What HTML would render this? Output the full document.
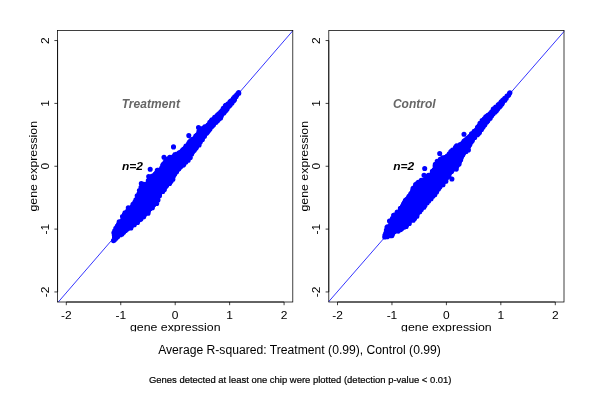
<!DOCTYPE html><html><head><meta charset="utf-8"><title>plot</title><style>html,body{margin:0;padding:0;background:#fff}</style></head><body><svg width="600" height="400" viewBox="0 0 600 400" style="display:block;will-change:transform;font-family:'Liberation Sans',sans-serif">
<rect width="600" height="400" fill="#fff"/>
<clipPath id="c1"><rect x="57.10" y="30.00" width="236.20" height="272.50"/></clipPath>
<polygon points="113.0,241.5 111.0,232.0 113.5,228.0 115.5,224.0 116.5,221.5 119.5,219.0 121.5,215.0 124.0,211.5 125.5,208.0 129.0,205.5 131.5,202.0 136.7,193.7 138.2,189.5 141.2,183.5 146.5,180.5 149.5,176.0 153.0,171.5 158.5,167.7 162.2,161.0 170.5,155.0 179.5,149.0 185.5,143.0 194.0,134.2 198.5,128.5 205.2,123.7 215.0,113.5 220.0,109.0 223.5,104.0 227.0,101.5 230.0,98.0 235.0,93.0 238.0,91.5 239.3,91.2 240.2,93.2 239.6,95.5 236.5,101.5 231.5,107.5 227.5,112.5 224.5,116.5 222.0,120.0 213.5,129.0 206.0,138.5 199.0,149.0 190.0,160.5 180.0,172.0 176.5,176.7 171.0,185.0 165.0,192.0 160.0,198.5 158.5,205.0 154.5,208.5 145.5,218.5 140.0,223.0 134.5,228.0 128.0,232.3 122.5,237.0 116.0,240.5" fill="#00f" stroke="#fff" stroke-width="1.6" stroke-linejoin="round"/>
<line x1="58.30" y1="302.00" x2="293.00" y2="30.50" stroke="#00f" stroke-width="0.8" clip-path="url(#c1)"/>
<path d="M185.6 150.8h0M193.5 147.2h0M151.6 179.2h0M185.9 159.8h0M160.8 191.7h0M158.7 176.3h0M171.2 163.9h0M218.1 115.5h0M132.6 207.2h0M144.5 195.3h0M134.1 209.8h0M129.9 215.4h0M156.3 173.7h0M127.9 228.0h0M175.8 171.1h0M169.4 171.4h0M182.6 157.4h0M120.4 232.2h0M172.3 166.8h0M124.6 216.8h0M206.2 129.1h0M198.3 134.9h0M177.7 161.0h0M149.5 202.3h0M183.0 150.5h0M164.5 170.0h0M170.1 174.1h0M139.6 205.5h0M144.9 198.9h0M166.5 165.4h0M136.5 204.4h0M130.8 224.1h0M144.6 208.1h0M162.1 173.9h0M212.5 124.6h0M218.1 118.7h0M165.3 178.8h0M132.8 209.2h0M193.2 145.3h0M192.4 150.5h0M216.1 117.4h0M154.3 203.9h0M202.9 131.2h0M182.5 156.7h0M145.3 187.7h0M121.1 228.1h0M147.5 198.8h0M155.8 197.1h0M216.9 116.8h0M192.1 144.6h0M131.1 217.9h0M151.4 185.6h0M191.3 152.7h0M131.8 208.7h0M140.0 202.6h0M139.3 211.7h0M171.6 175.7h0M156.6 187.2h0M196.2 145.7h0M129.1 216.1h0M141.2 207.9h0M174.5 166.1h0M171.5 175.8h0M177.0 164.0h0M165.6 174.5h0M195.7 146.6h0M122.4 221.9h0M151.2 200.8h0M132.4 220.6h0M158.5 177.6h0M129.7 211.0h0M157.9 188.1h0M153.9 182.3h0M165.6 179.4h0M136.9 204.0h0M143.9 204.1h0M210.8 126.2h0M157.9 176.0h0M163.0 168.9h0M188.3 150.9h0M198.5 136.1h0M123.5 230.8h0M129.7 222.1h0M134.3 207.0h0M135.0 216.2h0M159.0 180.6h0M168.6 168.7h0M152.5 198.1h0M143.4 214.0h0M174.8 166.5h0M192.7 146.0h0M166.9 167.1h0M178.2 156.4h0M150.5 188.5h0M170.5 173.6h0M160.5 179.2h0M149.2 207.3h0M156.5 192.7h0M184.9 154.0h0M189.5 148.2h0M161.5 174.7h0M175.5 157.9h0M177.9 168.9h0M157.2 180.6h0M162.8 175.6h0M177.1 167.1h0M150.6 195.0h0M145.4 188.4h0M185.2 153.0h0M123.8 227.0h0M126.9 215.3h0M196.8 142.5h0M202.3 130.4h0M145.9 207.2h0M160.7 190.0h0M133.9 219.1h0M152.5 190.8h0M196.7 144.0h0M125.9 228.4h0M203.6 129.5h0M166.3 168.1h0M177.6 158.1h0M132.8 209.1h0M158.6 174.0h0M174.9 166.3h0M147.6 190.6h0M177.5 154.5h0M159.1 178.5h0M164.8 170.9h0M184.0 150.8h0M125.5 220.8h0M148.5 194.5h0M134.6 214.2h0M171.4 177.9h0M150.3 205.9h0M193.1 143.9h0M182.2 152.2h0M153.2 203.8h0M198.7 142.0h0M206.7 130.0h0M193.2 142.9h0M131.2 220.9h0M141.3 210.3h0M163.7 174.9h0M200.7 140.0h0M198.5 139.6h0M178.4 162.8h0M133.3 214.7h0M203.8 132.5h0M203.1 135.6h0M160.8 178.2h0M159.1 191.2h0M178.9 165.8h0M170.8 160.7h0M167.8 165.0h0M165.0 179.0h0M171.0 164.7h0M214.5 121.3h0M146.3 210.9h0M148.7 198.0h0M219.7 114.0h0M160.1 187.5h0M143.0 202.8h0M134.1 209.6h0M224.6 108.8h0M175.1 171.8h0M140.6 203.9h0M142.6 201.5h0M173.0 165.9h0M187.3 156.6h0M154.9 180.6h0M218.3 115.6h0M157.7 190.6h0M192.6 147.7h0M181.3 154.4h0M135.0 222.2h0M163.2 177.4h0M192.3 142.3h0M153.8 176.6h0M139.1 210.5h0M138.0 217.4h0M186.6 151.3h0M136.1 201.8h0M177.7 157.1h0M170.0 179.2h0M135.2 212.5h0M178.2 159.7h0M163.6 183.0h0M151.5 185.4h0M158.4 172.0h0M146.3 206.8h0M143.1 210.8h0M209.8 124.9h0M129.7 212.0h0M135.7 203.8h0M155.3 191.7h0M131.9 215.7h0M117.7 228.7h0M165.3 170.8h0M120.8 226.1h0M136.4 206.4h0M204.8 132.1h0M145.3 198.1h0M145.0 210.2h0M151.8 199.6h0M218.6 116.6h0M133.4 206.2h0M144.5 202.5h0M164.0 186.8h0M181.8 159.7h0M151.0 186.2h0M178.0 163.9h0M127.1 228.6h0M139.7 203.1h0M153.5 201.3h0M165.8 181.7h0M165.3 168.3h0M130.7 221.1h0M156.8 185.9h0M182.0 151.7h0M173.0 165.7h0M161.0 182.8h0M122.6 230.2h0M185.4 159.1h0M152.1 205.1h0M131.5 220.1h0M186.8 155.4h0M204.8 129.8h0M166.1 177.1h0M193.3 147.8h0M143.2 213.7h0M171.0 161.7h0M123.7 228.5h0M182.6 152.1h0M171.8 165.3h0M157.6 182.1h0M134.2 216.3h0M158.1 190.7h0M164.3 172.9h0M208.8 127.6h0M209.9 124.6h0M169.5 166.8h0M156.0 195.7h0M131.1 222.3h0M160.2 192.1h0M141.2 209.1h0M126.4 226.9h0M154.0 193.3h0M136.9 219.8h0M153.0 188.1h0M145.8 207.9h0M144.6 204.3h0M177.0 165.4h0M141.1 209.9h0M205.1 131.4h0M122.8 230.2h0M222.4 112.8h0M147.3 203.2h0M176.9 166.5h0M159.7 178.2h0M180.5 157.3h0M120.4 233.7h0M177.2 157.4h0M170.6 177.6h0M153.0 181.0h0M119.8 231.9h0M178.1 155.1h0M150.0 198.8h0M204.2 133.0h0M146.5 187.8h0M144.2 213.6h0M127.1 218.7h0M152.7 182.4h0M170.4 174.2h0M140.3 197.1h0M153.1 179.4h0M132.1 217.6h0M162.3 173.5h0M151.5 193.9h0M128.5 220.4h0M142.3 209.7h0M169.1 176.4h0M196.3 137.4h0M168.6 161.6h0M138.6 204.3h0M136.4 211.5h0M186.4 158.4h0M141.0 197.1h0M149.6 199.9h0M137.9 209.0h0M210.6 124.0h0M144.5 191.2h0M185.7 158.3h0M128.3 224.3h0M126.2 218.8h0M152.0 194.1h0M116.6 231.5h0M174.7 165.0h0M177.1 168.2h0M150.0 200.8h0M166.8 175.5h0M187.5 146.4h0M141.2 211.2h0M187.0 154.5h0M164.0 184.9h0M193.5 142.7h0M150.5 184.1h0M146.6 208.8h0M128.5 224.3h0M170.5 170.4h0M154.4 193.6h0M138.3 214.9h0M195.4 144.8h0M177.4 162.8h0M196.1 139.2h0M160.8 174.1h0M182.3 151.9h0M123.6 222.7h0M130.9 216.2h0M164.0 175.0h0M122.6 229.5h0M150.3 201.2h0M220.8 113.6h0M154.6 198.5h0M183.2 158.0h0M150.8 181.8h0M146.0 202.1h0M156.1 181.0h0M125.5 218.0h0M144.2 214.6h0M158.4 178.6h0M141.6 197.7h0M136.7 220.3h0M187.4 155.7h0M144.0 212.6h0M189.7 154.8h0M143.0 195.0h0M145.0 208.4h0M149.6 182.8h0M178.7 154.5h0M163.7 176.4h0M137.6 199.7h0M130.2 221.2h0M137.5 214.4h0M136.9 220.5h0M165.7 172.4h0M184.4 157.3h0M140.9 208.7h0M139.6 197.9h0M171.7 171.2h0M152.3 202.8h0M115.6 235.1h0M159.3 187.8h0M138.2 210.8h0M132.2 222.7h0M144.2 203.0h0M151.6 181.2h0M198.7 141.8h0M171.6 169.0h0M176.8 162.7h0M129.6 221.3h0M153.2 190.7h0M145.5 207.2h0M160.6 174.2h0M131.4 219.7h0M206.8 131.4h0M174.3 173.2h0M157.2 194.4h0M180.1 166.0h0M197.6 142.4h0M120.8 226.3h0M118.6 231.7h0M128.8 224.1h0M163.0 169.5h0M202.5 135.0h0M170.0 174.9h0M196.5 142.4h0M166.4 182.6h0M126.7 222.0h0M183.0 154.4h0M139.3 196.7h0M122.4 223.8h0M164.0 180.8h0M134.7 203.8h0M130.8 219.1h0M132.8 217.2h0M115.8 234.8h0M172.6 162.9h0M178.0 165.6h0M143.9 215.1h0M153.0 202.4h0M151.8 189.2h0M125.5 218.9h0M117.0 234.7h0M129.7 212.4h0M199.6 140.5h0M144.2 206.1h0M181.7 153.4h0M195.4 143.2h0M126.1 225.4h0M167.4 170.4h0M159.9 176.0h0M136.5 209.8h0M174.6 166.3h0M174.5 159.3h0M145.4 210.1h0M119.5 230.4h0M151.7 191.7h0M124.4 229.7h0M119.2 230.0h0M149.5 198.1h0M115.7 235.9h0M126.0 214.8h0M155.2 182.3h0M161.7 189.2h0M160.8 177.1h0M154.6 188.8h0M169.7 166.0h0M191.2 146.2h0M151.2 200.1h0M172.7 175.7h0M172.4 164.0h0M159.5 192.5h0M167.0 182.1h0M175.5 168.5h0M157.2 177.7h0M190.6 152.4h0M128.0 218.1h0M193.7 144.4h0M119.5 230.3h0M136.2 218.2h0M180.8 159.6h0M167.4 168.1h0M124.7 218.6h0M194.1 143.4h0M168.7 171.8h0M136.4 204.5h0M172.8 168.3h0M124.7 217.8h0M127.8 226.4h0M156.1 183.8h0M151.9 204.7h0M142.6 194.8h0M170.2 179.5h0M191.1 150.7h0M131.7 218.9h0M159.8 192.3h0M187.6 152.4h0M166.4 181.4h0M207.9 129.8h0M202.5 134.0h0M161.1 175.3h0M228.1 105.5h0M163.9 185.3h0M152.8 194.9h0M153.5 195.4h0M145.8 200.0h0M140.3 203.6h0M162.8 171.4h0M227.7 106.4h0M161.5 187.2h0M155.7 174.3h0M167.2 166.4h0M156.8 182.4h0M146.6 203.1h0M189.0 155.2h0M167.6 161.4h0M136.9 200.1h0M177.1 159.6h0M141.2 200.2h0M154.3 185.7h0M178.8 163.4h0M186.0 154.4h0M203.2 133.6h0M158.5 179.8h0M138.7 201.3h0M190.4 148.1h0M141.7 201.2h0M158.8 172.5h0M189.5 153.9h0M134.8 211.5h0M158.9 175.8h0M144.5 186.3h0M133.3 209.3h0M156.4 179.2h0M125.9 222.4h0M166.1 172.5h0M210.9 126.3h0M135.7 219.2h0M126.2 215.7h0M198.7 134.2h0M138.9 217.2h0M158.5 172.9h0M169.3 173.0h0M154.7 188.9h0M178.5 168.2h0M164.7 177.3h0M226.5 106.1h0M186.9 151.3h0M154.7 185.3h0M114.4 240.1h0M114.5 237.4h0M114.3 235.1h0M113.9 232.7h0M114.6 231.9h0M114.7 230.9h0M115.8 228.3h0M117.3 226.0h0M118.5 224.4h0M119.2 221.9h0M120.3 221.7h0M123.3 218.9h0M122.5 216.5h0M124.4 214.4h0M125.0 212.8h0M126.7 212.6h0M127.9 211.0h0M128.2 210.2h0M128.3 207.9h0M131.9 207.2h0M133.0 204.2h0M134.9 202.1h0M135.9 199.8h0M137.1 199.4h0M137.2 195.8h0M138.9 193.7h0M139.4 190.6h0M140.9 189.8h0M141.0 187.4h0M142.9 186.7h0M143.8 184.4h0M144.4 184.6h0M147.6 183.3h0M148.3 180.6h0M152.2 178.0h0M151.8 176.4h0M153.9 175.7h0M156.1 173.4h0M157.3 170.4h0M158.2 170.4h0M161.8 167.8h0M162.7 165.3h0M163.3 164.3h0M165.1 162.1h0M166.0 160.8h0M167.3 159.2h0M169.8 157.4h0M173.8 156.3h0M175.0 154.5h0M176.1 154.3h0M179.2 152.7h0M181.3 151.8h0M182.9 149.7h0M184.1 149.1h0M185.9 146.7h0M186.0 146.1h0M188.7 143.4h0M189.6 141.8h0M190.8 140.6h0M192.6 139.4h0M195.8 136.0h0M197.0 135.0h0M198.7 133.3h0M198.9 131.5h0M202.0 128.8h0M203.0 128.4h0M204.8 126.8h0M208.0 125.0h0M209.8 122.3h0M211.4 120.6h0M212.0 119.7h0M214.7 117.2h0M217.0 115.5h0M218.4 114.3h0M218.9 113.7h0M220.9 111.9h0M222.3 110.2h0M223.3 108.3h0M225.3 105.9h0M225.7 105.4h0M228.2 103.8h0M230.0 101.7h0M230.8 101.1h0M233.4 98.3h0M234.7 96.9h0M236.6 95.0h0M238.0 93.3h0M238.7 92.6h0M116.0 238.2h0M117.6 236.7h0M120.7 234.7h0M122.0 234.1h0M123.6 232.3h0M125.5 230.5h0M127.1 228.9h0M130.9 227.9h0M131.1 226.2h0M134.3 224.7h0M135.3 222.7h0M137.5 222.5h0M140.1 219.6h0M140.9 219.0h0M143.7 216.7h0M143.9 215.8h0M144.7 214.3h0M148.1 213.3h0M148.5 211.3h0M150.4 208.6h0M152.4 207.8h0M152.6 205.7h0M155.4 203.3h0M156.7 203.5h0M156.2 200.1h0M158.0 200.1h0M159.5 195.8h0M159.5 194.3h0M162.8 191.5h0M164.4 189.6h0M165.4 187.0h0M166.7 185.5h0M167.9 183.4h0M169.6 183.4h0M171.1 181.2h0M172.9 179.3h0M173.5 175.9h0M174.6 174.3h0M176.6 171.7h0M178.9 168.8h0M180.6 166.8h0M183.3 165.1h0M183.8 164.5h0M185.9 162.1h0M188.2 160.2h0M190.3 157.6h0M189.1 156.2h0M191.7 154.1h0M192.9 151.4h0M194.3 150.3h0M196.1 148.0h0M196.6 146.8h0M199.1 145.0h0M200.3 142.0h0M202.4 139.4h0M202.6 138.0h0M204.5 136.3h0M206.8 133.1h0M207.6 132.1h0M209.0 130.3h0M210.0 129.0h0M212.1 126.3h0M213.4 124.9h0M216.0 122.2h0M217.5 120.8h0M219.0 119.0h0M220.6 117.9h0M221.2 116.2h0M223.8 112.9h0M224.5 112.1h0M226.2 110.2h0M227.2 108.8h0M229.3 106.1h0M230.2 105.0h0M232.0 103.0h0M233.7 100.7h0M234.5 99.8h0M236.2 96.5h0M236.7 95.6h0M238.8 93.3h0M173.5 146.9h0M164.0 157.2h0M188.8 135.6h0M150.2 169.3h0M148.7 176.5h0M141.3 183.6h0M198.5 127.6h0M113.5 240.6h0" fill="none" stroke="#00f" stroke-width="5.10" stroke-linecap="round"/>
<rect x="57.60" y="30.50" width="235.20" height="271.50" fill="none" stroke="#000" stroke-width="0.75"/>
<text transform="translate(66.31 319) scale(1 .94)" font-size="12" text-anchor="middle">-2</text>
<text transform="translate(49.20 291.94) rotate(-90) scale(1 .94)" font-size="12" text-anchor="middle">-2</text>
<text transform="translate(120.76 319) scale(1 .94)" font-size="12" text-anchor="middle">-1</text>
<text transform="translate(49.20 229.10) rotate(-90) scale(1 .94)" font-size="12" text-anchor="middle">-1</text>
<text transform="translate(175.20 319) scale(1 .94)" font-size="12" text-anchor="middle">0</text>
<text transform="translate(49.20 166.25) rotate(-90) scale(1 .94)" font-size="12" text-anchor="middle">0</text>
<text transform="translate(229.64 319) scale(1 .94)" font-size="12" text-anchor="middle">1</text>
<text transform="translate(49.20 103.40) rotate(-90) scale(1 .94)" font-size="12" text-anchor="middle">1</text>
<text transform="translate(284.09 319) scale(1 .94)" font-size="12" text-anchor="middle">2</text>
<text transform="translate(49.20 40.56) rotate(-90) scale(1 .94)" font-size="12" text-anchor="middle">2</text>
<path d="M66.31 302.00H284.09M57.60 291.94V40.56M66.31 302.00v3.2M57.60 291.94h-3.2M120.76 302.00v3.2M57.60 229.10h-3.2M175.20 302.00v3.2M57.60 166.25h-3.2M229.64 302.00v3.2M57.60 103.40h-3.2M284.09 302.00v3.2M57.60 40.56h-3.2" stroke="#000" stroke-width="0.75" fill="none"/>
<clipPath id="x1"><rect x="75.2" y="310" width="200" height="21.6"/></clipPath>
<g clip-path="url(#x1)"><text transform="translate(175.20 330.7) scale(1 .92)" font-size="12" text-anchor="middle" textLength="90.6" lengthAdjust="spacingAndGlyphs">gene expression</text></g>
<text transform="translate(36.80 166.25) rotate(-90) scale(1 .92)" font-size="12" text-anchor="middle" textLength="90.6" lengthAdjust="spacingAndGlyphs">gene expression</text>
<text x="121.70" y="108" font-size="12" font-weight="bold" font-style="italic" fill="#666" textLength="58.2">Treatment</text>
<text transform="translate(122.00 169.7) scale(1 0.9)" font-size="12" font-weight="bold" font-style="italic" fill="#000">n=2</text>
<clipPath id="c2"><rect x="328.30" y="30.00" width="236.20" height="272.50"/></clipPath>
<polygon points="384.2,238.4 382.8,234.0 384.0,230.0 385.0,226.0 387.5,224.0 388.0,220.5 391.0,218.0 391.5,214.0 395.0,212.0 398.0,209.0 399.5,205.0 402.2,199.7 407.5,193.7 409.0,191.0 413.5,183.5 422.5,177.5 430.0,171.5 434.5,162.5 438.0,157.0 445.0,154.2 453.0,146.8 461.5,140.0 467.5,134.5 472.5,129.5 479.0,121.0 485.0,113.5 487.5,112.5 490.5,109.5 491.5,107.0 495.0,104.5 500.0,99.5 503.0,96.5 506.5,93.0 509.0,91.6 510.3,91.2 511.4,93.6 510.6,96.3 507.5,101.0 504.0,105.5 500.0,110.0 497.5,113.5 494.5,116.0 492.5,119.5 486.3,127.0 481.0,134.0 475.5,140.0 469.8,151.0 465.0,157.0 462.0,164.0 459.0,169.0 455.0,172.0 452.0,175.5 448.0,182.0 442.0,189.0 435.0,197.0 429.0,203.0 420.2,214.5 414.2,222.2 412.0,222.5 408.5,227.0 404.0,229.5 401.0,232.0 396.0,234.5 392.3,238.2 388.5,238.0 385.0,238.6" fill="#00f" stroke="#fff" stroke-width="1.6" stroke-linejoin="round"/>
<line x1="328.40" y1="302.00" x2="564.90" y2="30.50" stroke="#00f" stroke-width="0.8" clip-path="url(#c2)"/>
<path d="M420.7 184.5h0M439.9 181.5h0M438.4 166.7h0M460.9 154.0h0M404.8 224.1h0M412.7 206.6h0M427.6 190.3h0M398.8 223.3h0M434.9 173.1h0M437.7 182.8h0M415.4 202.6h0M441.7 165.7h0M424.1 201.5h0M390.4 230.9h0M452.3 165.8h0M500.0 104.5h0M388.1 233.0h0M458.3 154.7h0M436.0 178.4h0M409.1 217.7h0M407.7 203.4h0M444.9 165.3h0M390.5 226.6h0M482.3 125.8h0M449.0 156.6h0M406.5 222.8h0M428.1 188.6h0M412.2 200.3h0M396.3 218.8h0M394.6 224.7h0M469.5 140.3h0M446.7 176.9h0M449.1 169.3h0M447.4 158.7h0M402.4 220.8h0M462.4 151.0h0M414.6 203.3h0M436.0 172.5h0M444.5 179.3h0M395.1 218.9h0M426.6 192.0h0M485.0 121.3h0M429.4 195.8h0M404.7 207.2h0M418.9 193.0h0M414.3 200.5h0M445.0 171.3h0M445.5 165.6h0M421.7 198.7h0M411.4 194.6h0M444.3 172.5h0M427.9 178.8h0M420.0 192.4h0M430.7 180.5h0M394.6 220.7h0M415.5 210.9h0M458.1 157.6h0M398.6 215.4h0M399.0 218.9h0M392.9 226.0h0M457.3 159.8h0M417.0 202.9h0M494.2 111.3h0M438.0 168.6h0M450.0 164.2h0M411.1 201.5h0M437.5 170.7h0M398.7 219.8h0M391.7 224.2h0M477.4 129.6h0M431.3 182.6h0M460.4 151.9h0M408.8 218.6h0M436.5 179.3h0M405.8 202.0h0M430.9 196.0h0M449.4 165.2h0M404.6 203.7h0M430.1 196.5h0M413.5 206.3h0M441.8 166.7h0M437.2 184.2h0M469.2 139.6h0M392.3 230.5h0M448.5 164.2h0M410.4 201.1h0M390.3 228.1h0M408.4 219.2h0M437.0 184.1h0M405.6 205.6h0M448.7 172.5h0M453.1 160.1h0M415.8 196.6h0M434.4 179.9h0M437.9 177.8h0M411.0 194.9h0M429.5 195.9h0M456.6 165.6h0M458.0 152.7h0M416.0 191.0h0M456.8 154.4h0M407.0 216.1h0M491.0 114.2h0M471.1 137.3h0M431.0 186.4h0M463.7 150.9h0M407.8 207.4h0M437.1 180.7h0M442.0 175.4h0M411.0 197.2h0M390.5 231.1h0M445.5 160.7h0M487.8 117.1h0M441.8 178.8h0M422.3 189.3h0M412.5 195.1h0M445.0 180.2h0M488.4 117.7h0M413.6 202.0h0M463.7 144.4h0M456.6 162.7h0M404.2 209.8h0M422.3 188.1h0M433.5 192.6h0M446.6 173.2h0M463.5 150.3h0M400.9 220.6h0M433.0 180.4h0M467.9 139.4h0M438.5 173.2h0M395.3 217.4h0M468.9 140.5h0M454.0 154.5h0M393.1 229.2h0M436.7 176.2h0M431.0 195.1h0M450.4 167.1h0M408.3 205.1h0M407.1 211.2h0M433.3 175.6h0M434.0 172.2h0M398.1 219.2h0M434.8 175.7h0M458.7 157.4h0M411.3 213.4h0M419.6 207.9h0M461.7 148.0h0M412.7 200.2h0M418.0 201.7h0M442.1 159.9h0M465.9 145.7h0M395.7 223.6h0M480.0 128.7h0M399.2 214.6h0M426.0 197.9h0M425.9 188.6h0M468.8 145.0h0M410.4 209.2h0M454.3 163.4h0M451.5 154.4h0M494.3 111.4h0M452.9 160.6h0M458.4 147.2h0M437.3 185.8h0M456.2 150.8h0M460.9 150.2h0M411.4 210.6h0M422.0 204.6h0M433.9 179.6h0M403.9 205.2h0M452.8 165.9h0M429.6 181.4h0M414.7 202.3h0M483.7 121.2h0M428.4 184.6h0M435.3 180.7h0M401.8 214.7h0M436.9 166.6h0M412.9 195.7h0M394.9 221.2h0M410.6 201.7h0M399.4 224.0h0M490.2 115.0h0M414.6 212.5h0M394.2 231.3h0M431.9 189.1h0M403.9 218.3h0M403.4 218.2h0M444.3 178.1h0M412.9 216.3h0M456.2 165.2h0M444.2 167.4h0M424.1 186.4h0M402.5 221.9h0M423.2 185.2h0M487.0 116.9h0M439.8 185.8h0M429.5 194.6h0M399.2 227.2h0M447.2 162.4h0M413.6 213.1h0M413.2 203.5h0M460.1 156.7h0M447.7 172.0h0M424.4 202.4h0M456.1 164.9h0M454.1 154.6h0M459.4 156.3h0M429.9 189.6h0M451.8 167.8h0M438.4 180.8h0M398.2 220.3h0M460.4 157.8h0M394.3 230.7h0M400.7 217.5h0M457.1 148.3h0M419.1 209.1h0M452.5 160.7h0M459.8 147.6h0M435.7 181.0h0M430.6 190.7h0M394.4 231.4h0M448.5 169.0h0M446.5 170.4h0M389.7 231.6h0M455.3 163.6h0M433.6 180.3h0M387.2 231.3h0M420.7 184.9h0M426.4 198.2h0M420.9 207.0h0M409.5 200.1h0M496.8 108.4h0M391.7 224.6h0M449.0 173.6h0M426.7 185.2h0M444.2 179.0h0M421.2 202.4h0M408.9 201.4h0M400.8 224.8h0M455.3 155.6h0M450.3 163.1h0M406.8 218.7h0M397.6 221.7h0M395.9 229.7h0M461.8 153.2h0M396.2 215.9h0M406.2 209.6h0M451.3 169.8h0M464.8 145.4h0M430.1 190.9h0M444.4 169.4h0M421.2 202.0h0M413.2 217.8h0M402.3 211.9h0M437.3 172.9h0M486.8 118.2h0M434.2 170.9h0M432.2 182.4h0M424.4 202.9h0M449.1 160.5h0M439.6 172.7h0M409.4 201.7h0M420.9 183.0h0M493.8 110.8h0M406.5 212.3h0M414.1 199.9h0M413.1 201.2h0M428.3 190.4h0M448.6 159.0h0M436.6 173.5h0M404.6 211.0h0M480.0 126.7h0M481.7 124.0h0M405.4 221.4h0M407.3 217.1h0M402.6 210.2h0M434.7 189.2h0M477.1 130.6h0M446.1 168.7h0M469.1 143.3h0M464.7 148.5h0M400.2 213.1h0M438.7 185.4h0M445.5 164.7h0M441.9 173.8h0M404.2 223.7h0M430.2 176.6h0M411.9 193.4h0M465.1 142.8h0M411.7 207.4h0M424.1 193.1h0M483.9 123.9h0M415.3 192.5h0M455.0 156.4h0M467.9 142.4h0M444.8 159.0h0M400.6 225.6h0M390.0 226.6h0M473.0 137.1h0M429.2 179.2h0M415.6 192.7h0M451.0 159.5h0M407.1 215.6h0M426.0 184.6h0M407.8 207.1h0M404.9 208.3h0M429.7 194.8h0M449.7 171.1h0M435.3 188.2h0M488.2 116.8h0M408.3 220.1h0M444.1 177.0h0M495.6 108.7h0M411.3 207.6h0M400.1 214.5h0M435.8 180.3h0M403.3 207.6h0M439.6 181.9h0M472.5 136.6h0M397.3 228.4h0M408.7 215.7h0M445.1 179.4h0M453.2 167.1h0M422.9 184.8h0M464.8 142.0h0M449.3 158.1h0M495.3 109.4h0M430.5 194.6h0M406.4 216.7h0M443.3 165.1h0M441.6 160.5h0M403.6 221.2h0M410.2 202.0h0M405.8 202.2h0M410.1 202.4h0M395.4 218.1h0M410.0 205.3h0M407.8 203.5h0M471.2 137.1h0M416.2 205.3h0M409.2 214.8h0M413.0 203.2h0M441.0 176.3h0M458.3 162.0h0M468.1 140.8h0M428.8 181.7h0M451.6 170.6h0M499.9 104.6h0M414.0 216.4h0M411.8 210.1h0M419.1 205.2h0M456.5 154.0h0M417.2 205.3h0M397.0 217.9h0M413.1 217.7h0M441.5 162.7h0M407.2 205.8h0M434.7 176.2h0M416.3 188.3h0M437.4 184.0h0M455.7 163.0h0M411.9 217.7h0M406.7 220.1h0M405.4 224.1h0M442.2 162.6h0M399.8 215.9h0M408.8 207.0h0M390.5 233.7h0M406.9 200.8h0M492.8 112.1h0M416.2 193.6h0M418.7 210.6h0M440.1 173.6h0M445.7 171.3h0M437.7 177.9h0M422.9 202.7h0M418.8 206.3h0M413.2 206.7h0M417.0 203.4h0M403.4 215.8h0M420.8 198.6h0M437.6 164.2h0M425.5 195.2h0M433.0 180.0h0M451.1 154.9h0M445.6 175.1h0M391.2 227.8h0M406.7 215.4h0M454.6 150.5h0M433.1 182.7h0M407.0 221.2h0M403.6 213.2h0M444.4 174.5h0M474.6 134.0h0M416.6 191.0h0M481.7 123.8h0M449.1 160.5h0M453.6 160.7h0M470.3 140.2h0M412.6 206.7h0M436.4 187.0h0M458.8 159.1h0M453.8 154.5h0M441.9 166.1h0M413.5 215.2h0M410.6 207.7h0M439.2 168.2h0M441.6 165.7h0M459.2 155.6h0M442.1 165.2h0M442.3 175.5h0M417.7 206.2h0M441.5 179.0h0M450.6 156.5h0M420.3 191.9h0M452.5 165.3h0M471.4 137.8h0M454.0 156.1h0M426.3 198.0h0M445.6 163.0h0M408.9 214.7h0M415.2 214.4h0M455.0 161.8h0M424.4 181.8h0M420.4 203.6h0M410.7 202.2h0M430.7 180.9h0M435.5 169.3h0M461.0 148.0h0M404.5 204.1h0M462.4 152.8h0M417.7 190.5h0M400.7 211.4h0M434.2 171.3h0M398.4 227.0h0M405.6 208.5h0M387.4 233.4h0M398.4 222.2h0M425.5 189.1h0M442.3 177.1h0M427.1 189.5h0M414.8 203.6h0M446.6 171.2h0M477.7 128.7h0M447.7 162.4h0M455.0 153.9h0M442.9 166.9h0M443.7 159.6h0M410.8 208.5h0M466.1 149.9h0M453.8 160.0h0M449.6 156.9h0M450.6 164.3h0M407.2 215.2h0M405.8 210.3h0M407.9 222.0h0M475.5 132.7h0M441.3 160.0h0M420.4 199.5h0M446.6 165.3h0M442.6 178.9h0M432.2 188.0h0M421.9 195.0h0M417.1 200.7h0M421.6 183.3h0M451.1 163.3h0M451.4 158.6h0M440.9 174.6h0M408.5 203.2h0M435.7 186.8h0M458.6 161.1h0M458.4 147.6h0M421.7 190.7h0M451.3 155.9h0M422.1 191.1h0M409.3 211.1h0M443.5 176.6h0M411.6 217.3h0M433.3 172.7h0M451.7 166.7h0M427.8 188.3h0M454.7 157.2h0M417.9 197.8h0M444.8 158.3h0M405.3 202.7h0M410.6 212.7h0M419.0 195.6h0M448.0 161.6h0M449.1 165.7h0M420.6 208.0h0M415.7 206.9h0M450.8 160.2h0M468.5 144.6h0M450.2 154.7h0M441.6 179.0h0M495.9 108.9h0M453.3 166.1h0M412.2 203.3h0M438.6 185.6h0M384.7 237.0h0M384.9 235.4h0M385.7 233.2h0M386.4 231.4h0M386.4 230.1h0M387.0 227.3h0M387.4 226.9h0M389.5 221.1h0M391.0 221.3h0M390.9 220.8h0M392.5 218.2h0M394.4 215.0h0M393.6 215.2h0M395.0 214.9h0M397.2 212.0h0M399.7 212.0h0M400.4 208.4h0M402.5 206.6h0M403.8 204.0h0M404.0 203.5h0M405.5 200.4h0M406.2 199.7h0M409.0 196.4h0M410.8 193.8h0M412.2 192.2h0M412.8 189.6h0M413.1 188.2h0M415.0 186.7h0M415.6 184.6h0M416.7 183.8h0M418.3 182.2h0M421.3 180.2h0M424.1 180.4h0M426.1 178.4h0M427.3 176.9h0M428.5 175.3h0M430.1 175.2h0M432.4 171.4h0M434.1 169.9h0M435.1 165.9h0M435.3 164.4h0M438.4 162.7h0M437.2 161.2h0M440.6 159.1h0M441.4 158.8h0M442.8 157.8h0M445.4 157.2h0M447.3 156.1h0M449.3 153.7h0M450.9 151.6h0M452.6 150.0h0M454.1 150.4h0M455.5 147.4h0M456.6 145.9h0M459.2 145.6h0M459.8 144.7h0M463.3 142.6h0M464.1 141.1h0M465.6 139.7h0M467.7 138.3h0M469.6 136.5h0M471.5 133.9h0M474.2 131.2h0M474.8 131.2h0M477.5 127.2h0M479.1 125.5h0M480.0 123.3h0M482.1 120.6h0M483.1 120.0h0M484.3 118.7h0M485.8 116.8h0M487.9 115.3h0M489.9 113.7h0M491.7 111.9h0M493.7 108.7h0M493.3 109.0h0M495.7 107.0h0M498.2 104.9h0M499.5 103.7h0M501.2 101.8h0M502.7 100.3h0M503.4 99.7h0M504.8 98.3h0M507.0 96.1h0M509.5 93.2h0M509.9 92.8h0M387.1 236.7h0M389.1 235.6h0M392.0 235.6h0M390.8 235.7h0M392.6 234.0h0M396.3 230.7h0M398.2 231.1h0M400.6 229.6h0M401.6 228.8h0M403.9 227.2h0M406.2 226.5h0M406.8 225.0h0M409.3 223.4h0M413.2 220.3h0M413.2 220.2h0M414.6 218.4h0M416.9 216.2h0M417.4 213.9h0M419.8 211.7h0M421.4 209.6h0M422.0 207.9h0M423.9 207.2h0M425.0 205.6h0M427.2 202.8h0M428.7 201.1h0M430.1 199.0h0M431.1 198.7h0M432.8 196.3h0M434.8 194.8h0M436.6 192.1h0M436.5 190.2h0M438.5 189.1h0M439.9 186.9h0M443.0 184.7h0M443.1 182.6h0M445.9 181.3h0M446.5 178.1h0M447.8 176.6h0M448.9 175.7h0M450.9 171.6h0M451.5 171.5h0M455.7 168.9h0M456.3 169.1h0M457.2 165.4h0M459.1 163.9h0M459.8 160.7h0M460.7 159.7h0M461.1 157.6h0M462.7 155.1h0M466.1 151.5h0M466.5 149.9h0M468.4 149.9h0M469.0 145.8h0M469.9 144.6h0M471.6 141.6h0M472.4 140.4h0M474.7 137.4h0M477.4 134.7h0M478.3 133.7h0M479.5 132.4h0M481.5 129.5h0M482.9 127.2h0M483.4 126.4h0M484.9 124.7h0M486.8 122.1h0M487.9 120.8h0M490.2 117.9h0M490.2 118.2h0M491.7 115.7h0M493.2 113.7h0M495.2 111.9h0M496.6 110.4h0M497.7 109.0h0M499.5 106.9h0M500.4 105.9h0M502.0 104.0h0M502.4 103.3h0M504.9 100.3h0M506.3 98.2h0M507.7 96.0h0M508.7 95.0h0M509.6 93.1h0M424.7 168.5h0M424.0 175.2h0M439.7 153.5h0M451.9 179.0h0M464.0 134.2h0" fill="none" stroke="#00f" stroke-width="5.10" stroke-linecap="round"/>
<rect x="328.80" y="30.50" width="235.20" height="271.50" fill="none" stroke="#000" stroke-width="0.75"/>
<text transform="translate(337.51 319) scale(1 .94)" font-size="12" text-anchor="middle">-2</text>
<text transform="translate(320.40 291.94) rotate(-90) scale(1 .94)" font-size="12" text-anchor="middle">-2</text>
<text transform="translate(391.96 319) scale(1 .94)" font-size="12" text-anchor="middle">-1</text>
<text transform="translate(320.40 229.10) rotate(-90) scale(1 .94)" font-size="12" text-anchor="middle">-1</text>
<text transform="translate(446.40 319) scale(1 .94)" font-size="12" text-anchor="middle">0</text>
<text transform="translate(320.40 166.25) rotate(-90) scale(1 .94)" font-size="12" text-anchor="middle">0</text>
<text transform="translate(500.84 319) scale(1 .94)" font-size="12" text-anchor="middle">1</text>
<text transform="translate(320.40 103.40) rotate(-90) scale(1 .94)" font-size="12" text-anchor="middle">1</text>
<text transform="translate(555.29 319) scale(1 .94)" font-size="12" text-anchor="middle">2</text>
<text transform="translate(320.40 40.56) rotate(-90) scale(1 .94)" font-size="12" text-anchor="middle">2</text>
<path d="M337.51 302.00H555.29M328.80 291.94V40.56M337.51 302.00v3.2M328.80 291.94h-3.2M391.96 302.00v3.2M328.80 229.10h-3.2M446.40 302.00v3.2M328.80 166.25h-3.2M500.84 302.00v3.2M328.80 103.40h-3.2M555.29 302.00v3.2M328.80 40.56h-3.2" stroke="#000" stroke-width="0.75" fill="none"/>
<clipPath id="x2"><rect x="346.4" y="310" width="200" height="21.6"/></clipPath>
<g clip-path="url(#x2)"><text transform="translate(446.40 330.7) scale(1 .92)" font-size="12" text-anchor="middle" textLength="90.6" lengthAdjust="spacingAndGlyphs">gene expression</text></g>
<text transform="translate(308.00 166.25) rotate(-90) scale(1 .92)" font-size="12" text-anchor="middle" textLength="90.6" lengthAdjust="spacingAndGlyphs">gene expression</text>
<text x="392.90" y="108" font-size="12" font-weight="bold" font-style="italic" fill="#666">Control</text>
<text transform="translate(393.20 169.7) scale(1 0.9)" font-size="12" font-weight="bold" font-style="italic" fill="#000">n=2</text>
<text x="299.5" y="354.2" font-size="12" text-anchor="middle" textLength="282.7" lengthAdjust="spacingAndGlyphs">Average R-squared: Treatment (0.99), Control (0.99)</text>
<text x="300.2" y="382.5" font-size="9.6" text-anchor="middle" textLength="302.6" stroke="#000" stroke-width="0.2" lengthAdjust="spacingAndGlyphs">Genes detected at least one chip were plotted (detection p-value &lt; 0.01)</text>
</svg></body></html>
